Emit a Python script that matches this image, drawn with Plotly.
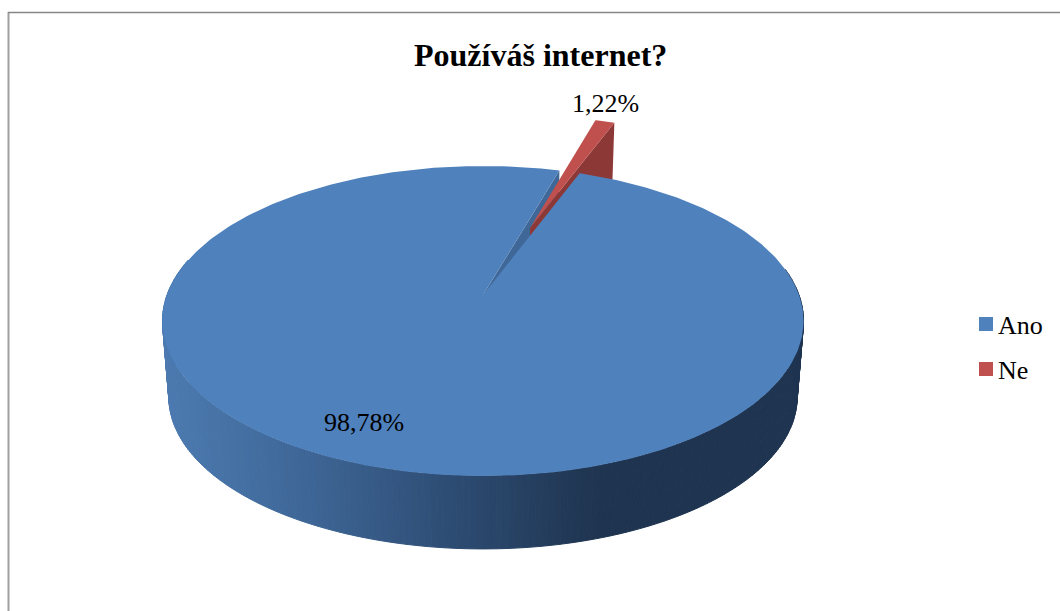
import numpy as np
import plotly.graph_objects as go

# chart values
categories = ["Ano", "Ne"]
values = [98.78, 1.22]
title_text = "Používáš internet?"

FONT = "Liberation Serif"
BLUE, RED = "#4f81bd", "#c0504d"
BLUE_CUT, RED_CUT = "#3f6898", "#8c3836"

# view of the 3d disc, in pixels of the 1060x611 picture
CX, CY = 483, 295
A, B, K = 316, 150.6, 0.1677   # perspective of the disc
FLOOR_SCALE, FLOOR_DROP = 0.98, 76.6
START_DEG = 20.7               # first slice starts here, clockwise from 12 o'clock
EXPLODE = 0.507


def project(deg, r=1.0, off=(0.0, 0.0), floor=False):
    t = np.radians(deg)
    u = r * np.sin(t) + off[0]
    v = r * np.cos(t) + off[1]
    s = FLOOR_SCALE if floor else 1.0
    d = 1 + K * v
    return CX + s * A * u / d, CY + (FLOOR_DROP if floor else 0) - s * B * v / d


def poly(xs, ys, color, width=1):
    return go.Scatter(x=list(xs), y=list(ys), mode="lines", fill="toself", fillcolor=color,
                      line=dict(color=color, width=width), hoverinfo="skip", showlegend=False)


def wall_color(x):
    # side of the disc darkens from left to right
    stops_x = [165, 300, 450, 600, 800]
    stops_r = [76, 63, 46, 31, 31]
    stops_g = [122, 104, 77, 53, 52]
    stops_b = [176, 152, 116, 80, 80]
    return "rgb(%d,%d,%d)" % (np.interp(x, stops_x, stops_r), np.interp(x, stops_x, stops_g),
                              np.interp(x, stops_x, stops_b))


shares = [v / sum(values) * 360 for v in values]
blue_start = START_DEG
blue_end = START_DEG + shares[0]
red_start = blue_end
red_end = blue_end + shares[1]
red_mid = (red_start + red_end) / 2
offset = (EXPLODE * np.sin(np.radians(red_mid)), EXPLODE * np.cos(np.radians(red_mid)))

fig = go.Figure()

# front wall of the blue slice, one strip per step
steps = np.arange(80, 285, 1.0)
for a, b in zip(steps[:-1], steps[1:]):
    x0, y0 = project(a)
    x1, y1 = project(b)
    x2, y2 = project(b, floor=True)
    x3, y3 = project(a, floor=True)
    fig.add_trace(poly([x0, x1, x2, x3, x0], [y0, y1, y2, y3, y0], wall_color((x0 + x1) / 2)))

# cut face of the blue slice seen through the gap
xa, ya = project(0, 0)
xb, yb = project(blue_end)
xc, yc = project(blue_end, floor=True)
xd, yd = project(0, 0, floor=True)
fig.add_trace(poly([xa, xb, xc, xd, xa], [ya, yb, yc, yd, ya], BLUE_CUT, width=0))

# exploded red slice: cut face, then top
xa, ya = project(0, 0, offset)
xb, yb = project(red_end, 1, offset)
xc, yc = project(red_end, 1, offset, floor=True)
xd, yd = project(0, 0, offset, floor=True)
fig.add_trace(poly([xa, xb, xc, xd, xa], [ya, yb, yc, yd, ya], RED_CUT, width=0))

arc = np.linspace(red_start, red_end, 8)
px, py = project(arc, 1, offset)
fig.add_trace(poly([xa, *px, xa], [ya, *py, ya], RED, width=0))

# top of the blue slice last, it hides whatever falls outside the gap
arc = np.linspace(blue_start, blue_end, 360)
px, py = project(arc)
fig.add_trace(poly([CX, *px, CX], [CY, *py, CY], BLUE, width=0))

# legend keys, placed by hand because the built-in legend keeps too wide a gap
for name, color, key_y in zip(categories, [BLUE, RED], [324, 369]):
    fig.add_trace(go.Scatter(x=[986], y=[key_y], mode="markers", hoverinfo="skip", showlegend=False,
                             marker=dict(symbol="square", size=14, color=color)))
    fig.add_annotation(x=998, y=key_y + 1.5, text=name, showarrow=False, xanchor="left", xshift=-2,
                       font=dict(size=26, color="black", family=FONT))

labels = [f"{v:.2f}%".replace(".", ",") for v in values]
fig.add_annotation(x=364, y=422, text=labels[0], showarrow=False, font=dict(size=26, color="black", family=FONT))
fig.add_annotation(x=605, y=103, text=labels[1], showarrow=False, font=dict(size=26, color="black", family=FONT))
fig.add_annotation(x=540, y=55, text=f"<b>{title_text}</b>", showarrow=False,
                   font=dict(size=32, color="black", family=FONT))

# chart frame, runs off the picture at right and bottom
fig.add_shape(type="line", x0=8.5, x1=8.5, y0=12, y1=620, line=dict(color="#a0a0a0", width=2))
fig.add_shape(type="line", x0=8, x1=1070, y0=12.5, y1=12.5, line=dict(color="#868686", width=1.5))

fig.update_xaxes(range=[0, 1060], visible=False, fixedrange=True)
fig.update_yaxes(range=[611, 0], visible=False, fixedrange=True)
fig.update_layout(
    width=1060, height=611,
    margin=dict(l=0, r=0, t=0, b=0),
    paper_bgcolor="white", plot_bgcolor="white",
    showlegend=False,
)

# drop the page's default body margin so the figure sits at the window corner
fig.write_html("out.html", config={"displayModeBar": False},
               post_script="document.body.style.margin='0';document.body.style.overflow='hidden';")
